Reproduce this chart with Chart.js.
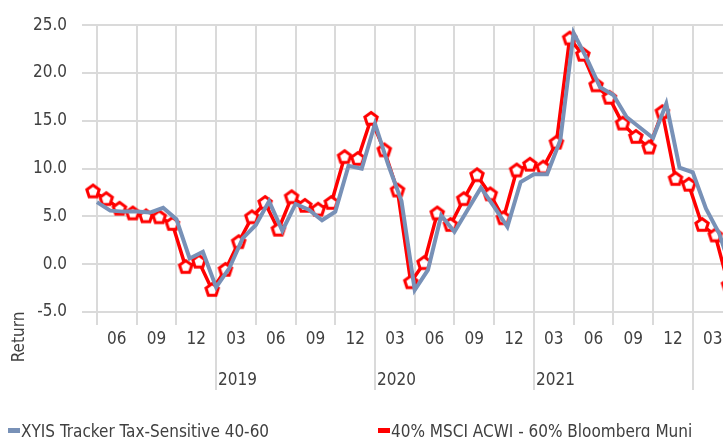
<!DOCTYPE html>
<html>
<head>
<meta charset="utf-8">
<script src="https://cdn.jsdelivr.net/npm/chart.js@4.4.1/dist/chart.umd.min.js"></script>
<style>
  html, body { margin: 0; padding: 0; background: #fff; overflow: hidden; }
  #chart { display: block; }
</style>
</head>
<body>
<canvas id="chart" width="760" height="460"></canvas>
<script>
// month ends, trailing 1-year return (%)
const months = [
  "2018-03", "2018-04", "2018-05", "2018-06", "2018-07", "2018-08", "2018-09", "2018-10", "2018-11", "2018-12",
  "2019-01", "2019-02", "2019-03", "2019-04", "2019-05", "2019-06", "2019-07", "2019-08", "2019-09", "2019-10", "2019-11", "2019-12",
  "2020-01", "2020-02", "2020-03", "2020-04", "2020-05", "2020-06", "2020-07", "2020-08", "2020-09", "2020-10", "2020-11", "2020-12",
  "2021-01", "2021-02", "2021-03", "2021-04", "2021-05", "2021-06", "2021-07", "2021-08", "2021-09", "2021-10", "2021-11", "2021-12",
  "2022-01", "2022-02", "2022-03"
];
const trackerReturns = [
  6.5, 5.6, 5.5, 5.5, 5.4, 5.9, 4.7, 0.6, 1.3, -2.4,
  -0.4, 2.7, 4.1, 6.6, 3.5, 6.3, 5.7, 4.6, 5.5, 10.3,
  10.0, 14.7, 10.4, 6.6, -2.7, -0.6, 5.1, 3.4, 5.7, 8.0,
  6.0, 3.9, 8.6, 9.4, 9.4, 13.0, 24.2, 21.5, 18.5, 17.7,
  15.4, 14.3, 13.2, 16.8, 10.1, 9.6, 5.8, 3.2, -1.0
];
const benchmarkReturns = [
  7.6, 6.8, 5.8, 5.3, 5.0, 4.9, 4.2, -0.3, 0.25, -2.7,
  -0.6, 2.3, 4.9, 6.4, 3.6, 7.0, 6.1, 5.7, 6.4, 11.2,
  11.0, 15.2, 11.9, 7.7, -1.9, 0.1, 5.3, 4.1, 6.8, 9.3,
  7.3, 4.8, 9.8, 10.4, 10.1, 12.7, 23.6, 21.9, 18.7, 17.4,
  14.7, 13.3, 12.2, 15.9, 8.9, 8.3, 4.1, 3.0, -2.2
];
const quarterLabels = [
  "06", "09", "12", "03", "06", "09", "12", "03", "06", "09", "12", "03",
  "06", "09", "12", "03", "06"
];
const yearLabels = ["2019", "2020", "2021"];
const yTicks = [-5, 0, 5, 10, 15, 20, 25];
const seriesNames = ["XYIS Tracker Tax-Sensitive 40-60", "40% MSCI ACWI - 60% Bloomberg Muni"];

const FONT = '"Liberation Sans Narrow", "Arial Narrow", "DejaVu Sans Condensed", sans-serif';
const BLUE = "#7891b7";
const RED = "#ff0000";
const GRID = "#dadada";
const TEXT = "#404040";
const MONTH_PX = 13.25;
const RED_SHIFT = 0.3; // benchmark drawn a touch left of the tracker

Chart.defaults.font.family = FONT;
Chart.defaults.font.size = 17;
Chart.defaults.color = TEXT;

const quarterTicks = [];
const yearTicks = [];
months.forEach((m, i) => {
  const mm = m.slice(5);
  if (["03", "06", "09", "12"].includes(mm)) quarterTicks.push(i);
  if (mm === "12") yearTicks.push(i);
});

function pentagon(r, color, lw) {
  const c = document.createElement("canvas");
  const s = Math.ceil(2 * r + lw + 2);
  c.width = s;
  c.height = s;
  const g = c.getContext("2d");
  g.beginPath();
  for (let i = 0; i < 5; i++) {
    const a = -Math.PI / 2 + (i * 2 * Math.PI) / 5;
    const px = s / 2 + r * Math.cos(a);
    const py = s / 2 + r * Math.sin(a);
    if (i) g.lineTo(px, py);
    else g.moveTo(px, py);
  }
  g.closePath();
  g.fillStyle = "#fff";
  g.fill();
  g.lineWidth = lw;
  g.strokeStyle = color;
  g.stroke();
  return c;
}

const decorations = {
  id: "decorations",
  afterDraw(chart) {
    const { ctx, chartArea, scales } = chart;
    const x = scales.x;
    ctx.save();
    // year separators and labels
    ctx.strokeStyle = GRID;
    ctx.lineWidth = 2;
    yearTicks.forEach((k, i) => {
      const px = Math.round(x.getPixelForValue(k));
      ctx.beginPath();
      ctx.moveTo(px, chartArea.bottom);
      ctx.lineTo(px, 390);
      ctx.stroke();
      if (yearLabels[i]) {
        ctx.fillStyle = TEXT;
        ctx.font = "17px " + FONT;
        ctx.textAlign = "left";
        ctx.textBaseline = "alphabetic";
        ctx.fillText(yearLabels[i], px + 2, 385);
      }
    });
    // axis title
    ctx.save();
    ctx.translate(24, 337);
    ctx.rotate(-Math.PI / 2);
    ctx.fillStyle = TEXT;
    ctx.font = "17px " + FONT;
    ctx.textAlign = "center";
    ctx.textBaseline = "alphabetic";
    ctx.fillText("Return", 0, 0);
    ctx.restore();
    // legend
    const items = [
      { x: 8, color: BLUE },
      { x: 378, color: RED },
    ];
    items.forEach((it, i) => {
      ctx.fillStyle = it.color;
      ctx.fillRect(it.x, 428, 12, 5);
      ctx.fillStyle = TEXT;
      ctx.font = "17px " + FONT;
      ctx.textAlign = "left";
      ctx.textBaseline = "alphabetic";
      ctx.fillText(chart.data.datasets[i].label, it.x + 13, 437);
    });
    ctx.restore();
  },
};

const ctx = document.getElementById("chart").getContext("2d");
new Chart(ctx, {
  type: "line",
  data: {
    datasets: [
      {
        label: seriesNames[0],
        data: trackerReturns.map((v, i) => ({ x: i, y: v })),
        borderColor: BLUE,
        borderWidth: 4,
        pointRadius: 0,
        tension: 0,
      },
      {
        label: seriesNames[1],
        data: benchmarkReturns.map((v, i) => ({ x: i - RED_SHIFT, y: v })),
        borderColor: RED,
        borderWidth: 3.5,
        pointStyle: pentagon(6.5, RED, 3),
        pointRadius: 7,
        tension: 0,
      },
    ],
  },
  options: {
    responsive: false,
    animation: false,
    events: [],
    layout: { padding: { top: 24, right: 10, left: 0, bottom: 0 } },
    plugins: {
      legend: { display: false },
      tooltip: { enabled: false },
    },
    scales: {
      x: {
        type: "linear",
        min: -1.13,
        max: -1.13 + 668 / MONTH_PX,
        afterFit: (s) => { s.height = 148; },
        afterBuildTicks: (s) => { s.ticks = quarterTicks.map((v) => ({ value: v })); },
        grid: { color: GRID, lineWidth: 2, tickLength: 13 },
        border: { display: false },
        ticks: {
          autoSkip: false,
          maxRotation: 0,
          padding: 4,
          labelOffset: 1.5 * MONTH_PX,
          callback: (v) => quarterLabels[quarterTicks.indexOf(v)],
        },
      },
      y: {
        min: -5,
        max: 25,
        afterFit: (s) => { s.width = 82; },
        afterBuildTicks: (s) => { s.ticks = yTicks.map((v) => ({ value: v })); },
        grid: { color: GRID, lineWidth: 2, drawTicks: false },
        border: { display: false },
        ticks: { padding: 15, callback: (v) => v.toFixed(1) },
      },
    },
  },
  plugins: [decorations],
});
</script>
</body>
</html>
